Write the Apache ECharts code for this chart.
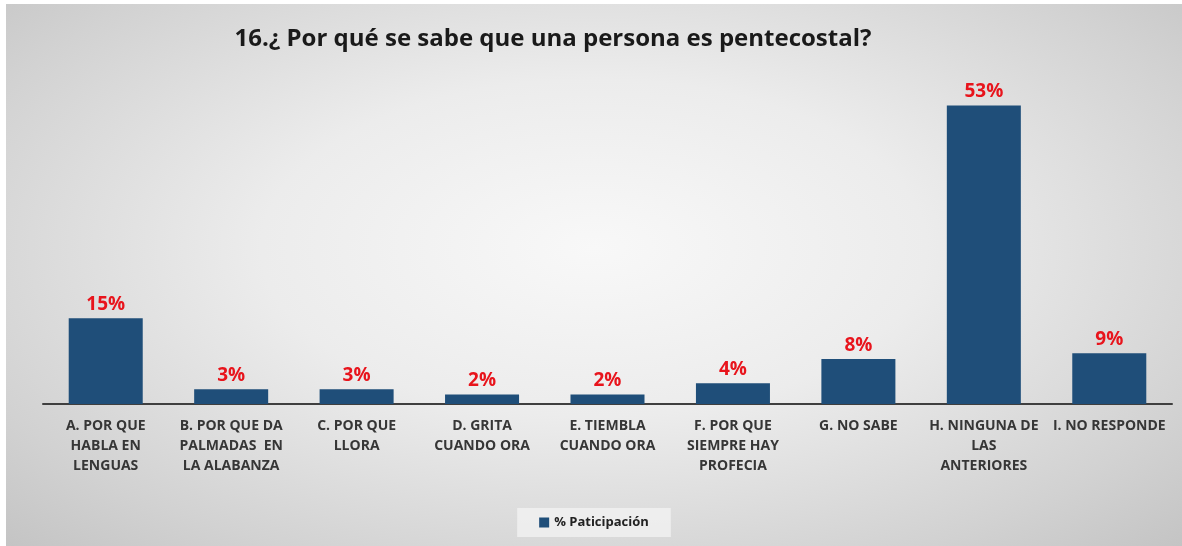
<!DOCTYPE html>
<html>
<head>
<meta charset="utf-8">
<script src="https://cdn.jsdelivr.net/npm/echarts@6/dist/echarts.min.js"></script>
<style>
  html, body { margin: 0; padding: 0; background: #ffffff; }
  #chart {
    position: absolute;
    left: 6px;
    top: 4px;
    width: 1176px;
    height: 542px;
    background: radial-gradient(ellipse at 50% 45%, #f8f8f8 0%, #ececec 40%, #d2d2d2 80%, #c4c4c4 100%);
  }
</style>
</head>
<body>
<div id="chart"></div>
<script>
const categories = [
  "A. POR QUE\nHABLA EN\nLENGUAS",
  "B. POR QUE DA\nPALMADAS  EN\nLA ALABANZA",
  "C. POR QUE\nLLORA",
  "D. GRITA\nCUANDO ORA",
  "E. TIEMBLA\nCUANDO ORA",
  "F. POR QUE\nSIEMPRE HAY\nPROFECIA",
  "G. NO SABE",
  "H. NINGUNA DE\nLAS\nANTERIORES",
  "I. NO RESPONDE"
];
const participation = [15.2, 2.6, 2.6, 1.7, 1.7, 3.7, 8.0, 53.0, 9.0];
const seriesName = "% Paticipación";

const chart = echarts.init(document.getElementById("chart"));
chart.setOption({
  backgroundColor: "transparent",
  textStyle: { fontFamily: "Open Sans" },
  title: {
    text: "16.¿ Por qué se sabe que una persona es pentecostal?",
    left: 542,
    textAlign: "center",
    top: 18,
    textStyle: { fontSize: 24, fontWeight: "bold", color: "#1a1a1a", fontFamily: "Open Sans" }
  },
  legend: {
    bottom: 9,
    left: "center",
    itemWidth: 10,
    itemHeight: 10,
    itemGap: 6,
    icon: "rect",
    padding: [8, 22],
    backgroundColor: "rgba(238,238,238,0.95)",
    textStyle: { fontSize: 13, fontWeight: "bold", color: "#222222" },
    data: [seriesName]
  },
  grid: { left: 37, right: 10, top: 62, bottom: 142, containLabel: false },
  xAxis: {
    type: "category",
    data: categories,
    axisLine: { lineStyle: { color: "#3f3f3f", width: 2 } },
    axisTick: { show: false },
    axisLabel: {
      interval: 0,
      margin: 12,
      fontSize: 14,
      fontWeight: "bold",
      color: "#363636",
      lineHeight: 20
    }
  },
  yAxis: {
    type: "value",
    min: 0,
    max: 60,
    show: false,
    splitLine: { show: false }
  },
  series: [{
    name: seriesName,
    type: "bar",
    data: participation,
    barWidth: "59%",
    itemStyle: { color: "#1f4e79" },
    label: {
      show: true,
      position: "top",
      distance: 4,
      formatter: (p) => Math.round(p.value) + "%",
      fontSize: 19,
      fontWeight: "bold",
      color: "#e8141c"
    }
  }]
});
</script>
</body>
</html>
